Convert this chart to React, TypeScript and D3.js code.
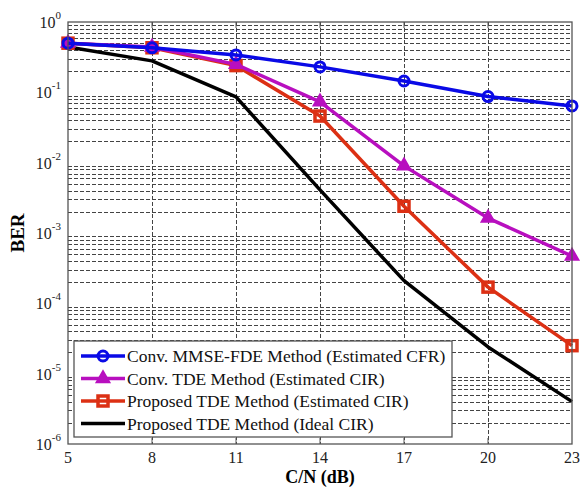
import React, { useRef, useEffect } from 'react';
import * as d3 from 'd3';

// C/N values (dB)
const cn = [5, 8, 11, 14, 17, 20, 23];
const berMmseFde = [0.5, 0.43, 0.34, 0.23, 0.145, 0.087, 0.064];
const berConvTde = [0.5, 0.44, 0.25, 0.073, 0.009, 0.00163, 0.00047];
const berPropEst = [0.5, 0.43, 0.24, 0.046, 0.0024, 0.00017, 0.000025];
const berPropIdeal = [0.44, 0.28, 0.086, 0.0041, 0.00021, 0.000024, 0.000004];
const yExponents = [0, -1, -2, -3, -4, -5, -6];
const legendLabels = [
  'Conv. MMSE-FDE Method (Estimated CFR)',
  'Conv. TDE Method (Estimated CIR)',
  'Proposed TDE Method (Estimated CIR)',
  'Proposed TDE Method (Ideal CIR)',
];

export default function App() {
  const svgRef = useRef<SVGSVGElement>(null);

  useEffect(() => {
    const width = 581;
    const height = 488;
    const marginTop = 22;
    const marginRight = 9;
    const marginBottom = 44;
    const marginLeft = 68;
    const font = '"Liberation Serif", "Times New Roman", serif';

    const x = d3.scaleLinear()
        .domain([5, 23])
        .range([marginLeft, width - marginRight]);

    const y = d3.scaleLog()
        .domain([1e-6, 1])
        .range([height - marginBottom, marginTop]);

    const svg = d3.select(svgRef.current)
        .attr('width', width)
        .attr('height', height)
        .attr('viewBox', [0, 0, width, height])
        .style('display', 'block')
        .style('font-family', font);
    svg.selectAll('*').remove();

    svg.append('rect')
        .attr('width', width).attr('height', height).attr('fill', '#fff');

    // grid
    const grid = svg.append('g')
        .attr('stroke', '#444')
        .attr('stroke-width', 1)
        .attr('stroke-dasharray', '4,2');

    const minor: number[] = [];
    for (let e = -6; e < 0; e++) {
      for (let m = 2; m <= 9; m++) minor.push(m * Math.pow(10, e));
    }
    grid.selectAll('line.h')
      .data(minor)
      .join('line')
        .attr('x1', x(5)).attr('x2', x(23))
        .attr('y1', d => Math.round(y(d)) + 0.5)
        .attr('y2', d => Math.round(y(d)) + 0.5);
    grid.selectAll('line.v')
      .data(cn.slice(1, -1))
      .join('line')
        .attr('x1', d => Math.round(x(d)) + 0.5)
        .attr('x2', d => Math.round(x(d)) + 0.5)
        .attr('y1', y(1)).attr('y2', y(1e-6));

    // series
    const series = [
      { values: berMmseFde, color: '#0a0ae6', marker: 'circle' },
      { values: berConvTde, color: '#b80fbf', marker: 'triangle' },
      { values: berPropEst, color: '#dc3014', marker: 'square' },
      { values: berPropIdeal, color: '#000', marker: 'none' },
    ];

    const line = d3.line<number>()
        .x((_, i) => x(cn[i]))
        .y(d => y(d));

    const drawMarker = (g: any, type: string, cx: number, cy: number, color: string) => {
      if (type === 'circle') {
        g.append('circle')
          .attr('cx', cx).attr('cy', cy).attr('r', 5)
          .attr('fill', 'none').attr('stroke', color).attr('stroke-width', 3);
      } else if (type === 'triangle') {
        g.append('path')
          .attr('d', d3.symbol(d3.symbolTriangle, 70)())
          .attr('transform', `translate(${cx},${cy})`)
          .attr('fill', color).attr('stroke', color).attr('stroke-width', 2);
      } else if (type === 'square') {
        g.append('rect')
          .attr('x', cx - 5).attr('y', cy - 5).attr('width', 10).attr('height', 10)
          .attr('fill', 'none').attr('stroke', color).attr('stroke-width', 3.5);
      }
    };

    const plot = svg.append('g');
    series.slice().reverse().forEach(s => {
      plot.append('path')
        .datum(s.values)
        .attr('d', line)
        .attr('fill', 'none')
        .attr('stroke', s.color)
        .attr('stroke-width', 3.5)
        .attr('stroke-linejoin', 'round');
      s.values.forEach((v, i) => drawMarker(plot, s.marker, x(cn[i]), y(v), s.color));
    });

    // frame
    svg.append('rect')
        .attr('x', x(5)).attr('y', y(1))
        .attr('width', x(23) - x(5)).attr('height', y(1e-6) - y(1))
        .attr('fill', 'none').attr('stroke', '#555').attr('stroke-width', 1.3);

    // x ticks
    const xt = svg.append('g').attr('stroke', '#555');
    cn.slice(1, -1).forEach(v => {
      xt.append('line')
        .attr('x1', x(v)).attr('x2', x(v))
        .attr('y1', y(1e-6)).attr('y2', y(1e-6) - 6);
      xt.append('line')
        .attr('x1', x(v)).attr('x2', x(v))
        .attr('y1', y(1)).attr('y2', y(1) + 6);
    });
    svg.append('g')
      .selectAll('text')
      .data(cn)
      .join('text')
        .attr('x', d => x(d))
        .attr('y', height - marginBottom + 19)
        .attr('text-anchor', 'middle')
        .attr('font-size', 16)
        .attr('fill', '#222')
        .text(d => d);

    // y ticks
    const yl = svg.append('g').attr('font-size', 16).attr('fill', '#222');
    yExponents.forEach(e => {
      const t = yl.append('text')
        .attr('x', marginLeft - 7)
        .attr('y', y(Math.pow(10, e)) + 6)
        .attr('text-anchor', 'end');
      t.append('tspan').text('10');
      t.append('tspan').attr('font-size', 11).attr('dy', -9).text(e);
    });

    // axis labels
    svg.append('text')
        .attr('transform', `translate(24,${(y(1) + y(1e-6)) / 2}) rotate(-90)`)
        .attr('text-anchor', 'middle')
        .attr('font-weight', 'bold')
        .attr('font-size', 19)
        .text('BER');
    svg.append('text')
        .attr('x', (x(5) + x(23)) / 2)
        .attr('y', height - 5)
        .attr('text-anchor', 'middle')
        .attr('font-weight', 'bold')
        .attr('font-size', 18)
        .text('C/N (dB)');

    // legend
    const lg = svg.append('g');
    lg.append('rect')
        .attr('x', 74).attr('y', 341).attr('width', 378).attr('height', 96)
        .attr('fill', '#fff').attr('stroke', '#555').attr('stroke-width', 1.3);
    series.forEach((s, i) => {
      const ly = 356 + i * 22.5;
      lg.append('line')
        .attr('x1', 81).attr('x2', 125).attr('y1', ly).attr('y2', ly)
        .attr('stroke', s.color).attr('stroke-width', 3.5);
      drawMarker(lg, s.marker, 103, ly, s.color);
      lg.append('text')
        .attr('x', 127).attr('y', ly + 6)
        .attr('font-size', 17.5)
        .attr('fill', '#111')
        .text(legendLabels[i]);
    });
  }, []);

  return (
    <div style={{ position: 'fixed', left: 0, top: 0, width: 581, height: 488, overflow: 'hidden' }}>
      <svg ref={svgRef}></svg>
    </div>
  );
}
